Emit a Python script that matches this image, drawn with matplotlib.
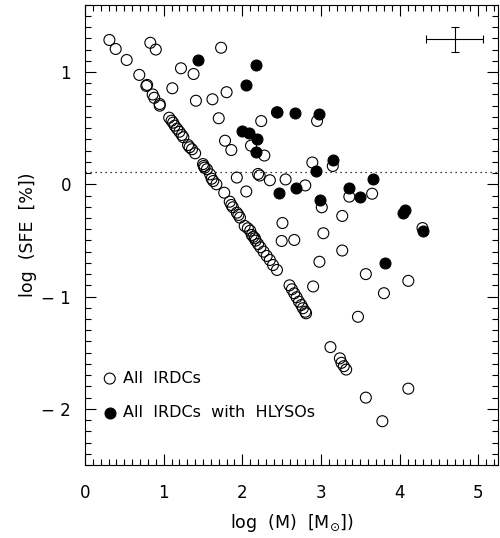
import matplotlib.pyplot as plt
from matplotlib.ticker import MultipleLocator, FuncFormatter

plt.rcParams['font.family'] = ['DejaVu Sans']

# All IRDCs (open circles): log M and log SFE
logm_all = [0.31, 0.39, 0.53, 0.69, 0.78, 0.79, 0.86, 0.88, 0.95, 0.95,
            1.07, 1.10, 1.12, 1.14, 1.17, 1.20, 1.23, 1.25, 1.31, 1.33,
            1.36, 1.40, 1.50, 1.51, 1.52, 1.55, 1.59, 1.61, 1.63, 1.67,
            1.77, 1.84, 1.86, 1.88, 1.93, 1.95, 1.97, 2.03, 2.07, 2.10,
            2.12, 2.14, 2.16, 2.17, 2.20, 2.23, 2.27, 2.31, 2.35, 2.39,
            2.44, 2.60, 2.63, 2.66, 2.69, 2.72, 2.75, 2.77, 2.80, 2.81,
            3.12, 3.24, 3.26, 3.29, 3.32,
            0.83, 0.90, 1.22, 1.38, 1.11, 1.41, 1.62, 1.80, 1.73, 1.70,
            1.78, 1.86, 2.24, 2.11, 2.28, 2.20, 2.22, 1.93, 2.05, 2.35,
            2.55, 2.80, 2.89, 3.15, 2.95, 2.44, 2.51, 2.50, 2.66, 3.01,
            3.27, 3.36, 3.65, 3.03, 2.98, 3.27, 2.90, 3.57, 3.80, 4.11,
            3.47, 4.29, 3.57, 4.11, 3.78]
logsfe_all = [1.285, 1.205, 1.107, 0.974, 0.876, 0.885, 0.80, 0.77, 0.715, 0.70,
              0.593, 0.566, 0.549, 0.522, 0.495, 0.468, 0.439, 0.419, 0.35, 0.33,
              0.312, 0.276, 0.18, 0.163, 0.148, 0.134, 0.089, 0.05, 0.029, 0.0,
              -0.075, -0.155, -0.184, -0.205, -0.253, -0.273, -0.297, -0.371, -0.392, -0.413,
              -0.451, -0.467, -0.481, -0.502, -0.532, -0.561, -0.60, -0.638, -0.674, -0.719,
              -0.763, -0.90, -0.935, -0.971, -1.006, -1.045, -1.075, -1.104, -1.135, -1.149,
              -1.45, -1.55, -1.59, -1.62, -1.65,
              1.26, 1.20, 1.033, 0.982, 0.855, 0.744, 0.757, 0.82, 1.216, 0.588,
              0.388, 0.305, 0.563, 0.344, 0.256, 0.092, 0.078, 0.06, -0.064, 0.036,
              0.043, -0.01, 0.194, 0.163, 0.564, 0.641, -0.345, -0.505, -0.496, -0.205,
              -0.282, -0.11, -0.084, -0.436, -0.69, -0.59, -0.91, -0.80, -0.97, -0.86,
              -1.18, -0.39, -1.90, -1.82, -2.11]

# IRDCs with HLYSOs (filled circles)
logm_hly = [1.44, 2.17, 2.05, 2.44, 2.67, 2.97, 1.99, 2.08, 2.19, 2.18,
            2.47, 2.68, 2.94, 3.15, 2.99, 3.36, 3.50, 3.66, 4.04, 4.07,
            4.30, 3.81]
logsfe_hly = [1.107, 1.062, 0.884, 0.644, 0.638, 0.624, 0.475, 0.461, 0.40, 0.288,
              -0.077, -0.033, 0.121, 0.212, -0.14, -0.033, -0.11, 0.045, -0.258, -0.229,
              -0.416, -0.70]

# Typical error bar (top right corner)
err_m, err_sfe = 4.70, 1.29
err_dm, err_dsfe = 0.36, 0.11

# Horizontal reference level
sfe_ref = 0.113


# Tick labels in the IDL way: spaced minus sign
def tick_fmt(v, pos):
    if v < 0:
        return '\u2212 %d' % abs(round(v))
    return '%d' % round(v)


fig = plt.figure(figsize=(5, 5.38), dpi=100)
ax = fig.add_axes([0.17, 0.1357, 0.826, 0.8557])

# Data points
ax.scatter(logm_all, logsfe_all, s=62, facecolors='none', edgecolors='black',
           linewidths=0.8, label='All  IRDCs')
ax.scatter(logm_hly, logsfe_hly, s=62, facecolors='black', edgecolors='black',
           linewidths=0.8, label='All  IRDCs  with  HLYSOs')

# Dotted reference line
ax.axhline(sfe_ref, color='black', linestyle=(0, (1, 3)), linewidth=0.9)

# Error bar
ax.errorbar([err_m], [err_sfe], xerr=[err_dm], yerr=[err_dsfe], fmt='none',
            ecolor='black', elinewidth=0.8, capsize=3, capthick=0.8)

# Axes limits and ticks
ax.set_xlim(0, 5.25)
ax.set_ylim(-2.5, 1.6)
ax.xaxis.set_major_locator(MultipleLocator(1))
ax.xaxis.set_minor_locator(MultipleLocator(0.1))
ax.yaxis.set_major_locator(MultipleLocator(1))
ax.yaxis.set_minor_locator(MultipleLocator(0.1))
ax.xaxis.set_major_formatter(FuncFormatter(tick_fmt))
ax.yaxis.set_major_formatter(FuncFormatter(tick_fmt))
ax.tick_params(which='both', direction='in', top=True, right=True, width=0.8,
               labelsize=12)
ax.tick_params(which='major', length=8)
ax.tick_params(which='minor', length=4)
ax.tick_params(axis='x', pad=14)
ax.tick_params(axis='y', pad=10)
for s in ax.spines.values():
    s.set_linewidth(0.8)

ax.set_xlabel(r'log  (M)  [M$_{\odot}$])', fontsize=12.5, labelpad=7)
ax.set_ylabel('log  (SFE  [%])', fontsize=12.5, labelpad=3)

# Legend without frame
ax.legend(loc='lower left', bbox_to_anchor=(0.029, 0.084), borderaxespad=0,
          frameon=False, fontsize=11.5, handlelength=0.8, handletextpad=0.45,
          labelspacing=1.2, scatterpoints=1)

fig.savefig('out.png', dpi=100)
